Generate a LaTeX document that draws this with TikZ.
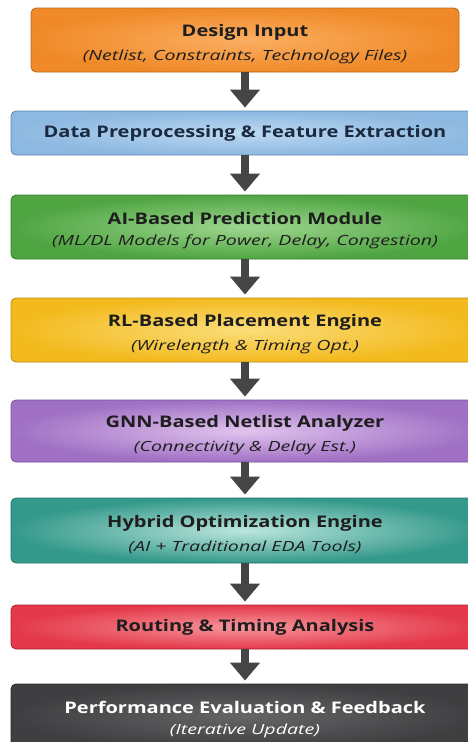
\documentclass[tikz,border=0pt]{standalone}
\usepackage{fontspec}
\setmainfont{Open Sans}
\newfontfamily\titlefont{Open Sans}[FakeStretch=1.25]
\newfontfamily\notefont{Open Sans}[FakeStretch=1.4]
\usepackage{xcolor}
\usetikzlibrary{arrows.meta,positioning}

\definecolor{orangeout}{HTML}{F08A28}
\definecolor{orangein}{HTML}{FBAE62}
\definecolor{orangeline}{HTML}{B8651A}
\definecolor{blueout}{HTML}{8DB8E0}
\definecolor{bluein}{HTML}{BCD9F2}
\definecolor{blueline}{HTML}{5D88B5}
\definecolor{greenout}{HTML}{4FA542}
\definecolor{greenin}{HTML}{9ED68F}
\definecolor{greenline}{HTML}{3A7D30}
\definecolor{yellowout}{HTML}{F3BA1E}
\definecolor{yellowin}{HTML}{FBDD7A}
\definecolor{yellowline}{HTML}{B98A10}
\definecolor{purpleout}{HTML}{A070C4}
\definecolor{purplein}{HTML}{E0C4EE}
\definecolor{purpleline}{HTML}{7A4E9A}
\definecolor{tealout}{HTML}{33998A}
\definecolor{tealin}{HTML}{BCE6DE}
\definecolor{tealline}{HTML}{267366}
\definecolor{redout}{HTML}{E4394A}
\definecolor{redin}{HTML}{F7959C}
\definecolor{redline}{HTML}{A82531}
\definecolor{grayout}{HTML}{3F3F41}
\definecolor{grayin}{HTML}{656567}
\definecolor{grayline}{HTML}{2A2A2A}
\definecolor{arrowgray}{HTML}{454545}
\definecolor{titleink}{HTML}{1E1E1E}
\definecolor{navyink}{HTML}{1B2A40}

\newcommand{\stagetitle}[1]{{\titlefont\fontsize{16}{19}\selectfont\bfseries #1}}
\newcommand{\stagenote}[1]{{\notefont\fontsize{14}{17}\selectfont\itshape #1}}
\newcommand{\toplift}{\rule{0pt}{20pt}}

\begin{document}
\begin{tikzpicture}[x=1pt, y=-1pt,
  stage/.style={rectangle, draw, rounded corners=5pt, line width=0.8pt, minimum width=468pt, align=center, text=titleink, shading=radial},
  flow/.style={line width=8pt, draw=arrowgray, -{Triangle[width=29pt,length=18pt]}, shorten >=3pt}
]
\clip (0,0) rectangle (468,742);

\node[stage, minimum width=428pt, minimum height=64pt, draw=orangeline, inner color=orangein, outer color=orangeout] (input) at (245,40)
  {\toplift\stagetitle{Design Input}\\[9pt]\stagenote{(Netlist, Constraints, Technology Files)}};
\node[stage, minimum height=44pt, draw=blueline, inner color=bluein, outer color=blueout, text=navyink] (prep) at (245,133)
  {\stagetitle{Data Preprocessing \& Feature Extraction}};
\node[stage, minimum height=64pt, draw=greenline, inner color=greenin, outer color=greenout] (predict) at (245,227)
  {\toplift\stagetitle{AI-Based Prediction Module}\\[9pt]\stagenote{(ML/DL Models for Power, Delay, Congestion)}};
\node[stage, minimum height=64pt, draw=yellowline, inner color=yellowin, outer color=yellowout] (place) at (245,330)
  {\toplift\stagetitle{RL-Based Placement Engine}\\[9pt]\stagenote{(Wirelength \& Timing Opt.)}};
\node[stage, minimum height=62pt, draw=purpleline, inner color=purplein, outer color=purpleout] (gnn) at (245,431)
  {\toplift\stagetitle{GNN-Based Netlist Analyzer}\\[9pt]\stagenote{(Connectivity \& Delay Est.)}};
\node[stage, minimum height=65pt, draw=tealline, inner color=tealin, outer color=tealout] (hybrid) at (245,530.5)
  {\toplift\stagetitle{Hybrid Optimization Engine}\\[9pt]\stagenote{(AI + Traditional EDA Tools)}};
\node[stage, minimum height=44pt, draw=redline, inner color=redin, outer color=redout] (route) at (245,627)
  {\stagetitle{Routing \& Timing Analysis}};
\node[stage, minimum height=64pt, draw=grayline, inner color=grayin, outer color=grayout, text=white] (perf) at (245,716)
  {\toplift\stagetitle{Performance Evaluation \& Feedback}\\[9pt]\stagenote{(Iterative Update)}};

\draw[flow] (input) -- (prep);
\draw[flow] (prep) -- (predict);
\draw[flow] (predict) -- (place);
\draw[flow] (place) -- (gnn);
\draw[flow] (gnn) -- (hybrid);
\draw[flow] (hybrid) -- (route);
\draw[flow] (route) -- (perf);
\end{tikzpicture}
\end{document}
